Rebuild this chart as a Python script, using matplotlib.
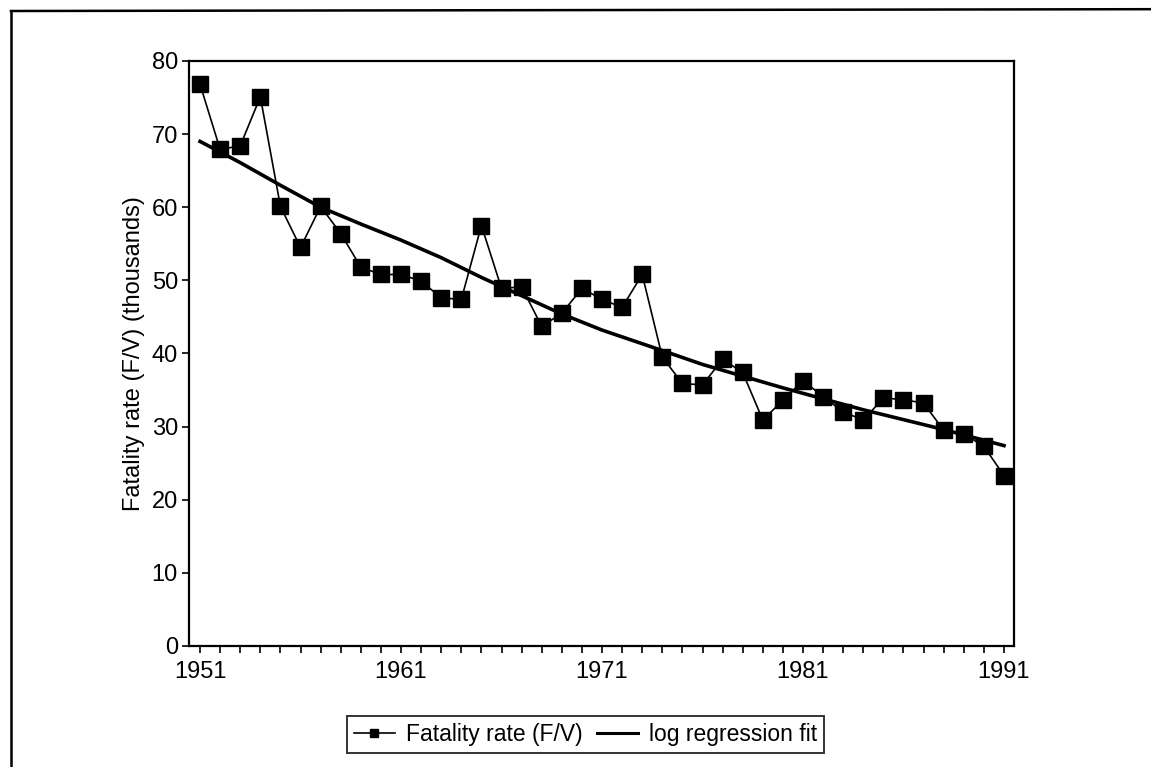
## fatality rate per year with log regression fit

import numpy as np
import matplotlib
matplotlib.use("Agg")
import matplotlib.pyplot as plt
from matplotlib import rcParams
from matplotlib.lines import Line2D

rcParams.update({"font.family": ["Liberation Sans", "DejaVu Sans"], "font.size": 17})

years = list(range(1951, 1992))
fatality_rate = [76.8, 67.9, 68.4, 75.1, 60.1, 54.5, 60.1, 56.4, 51.8, 50.8,
                 50.8, 49.9, 47.6, 47.4, 57.5, 48.9, 49.1, 43.7, 45.5, 48.9,
                 47.4, 46.3, 50.8, 39.5, 35.9, 35.7, 39.2, 37.4, 30.9, 33.6,
                 36.3, 34.1, 32.0, 30.9, 33.9, 33.7, 33.2, 29.5, 29.0, 27.3,
                 23.3]
fit_years = [1951, 1953, 1955, 1957, 1959, 1961, 1963, 1965, 1967, 1969,
             1971, 1974, 1976, 1978, 1980, 1982, 1984, 1988, 1991]
fit_values = [69.0, 66.1, 63.0, 60.0, 57.7, 55.5, 53.1, 50.4, 47.9, 45.4,
              43.2, 40.4, 38.5, 36.9, 35.3, 33.8, 32.3, 29.6, 27.4]
y_ticks = [0, 10, 20, 30, 40, 50, 60, 70, 80]
x_labels = [1951, 1961, 1971, 1981, 1991]

fig = plt.figure(figsize=(11.51, 7.67), dpi=100)
ax = fig.add_axes([0.1642, 0.1578, 0.7168, 0.7627])

ax.plot(years, fatality_rate, color="black", lw=1.2, marker="s",
        markersize=11, markerfacecolor="black", markeredgecolor="black")
ax.plot(fit_years, fit_values, color="black", lw=2.6)

ax.set_xlim(1950.45, 1991.5)
ax.set_ylim(0, 80)
ax.set_yticks(y_ticks)
ax.set_xticks(x_labels)
ax.set_xticks(years, minor=True)
ax.tick_params(axis="both", which="both", direction="out", length=5, width=1.2,
               colors="black", labelsize=17)
ax.tick_params(axis="x", pad=6)
ax.tick_params(axis="y", pad=3)
for s in ax.spines.values():
    s.set_linewidth(1.6)
ax.set_ylabel("Fatality rate (F/V) (thousands)", fontsize=17, labelpad=5)

handles = [Line2D([], [], color="black", lw=1.2, marker="s", markersize=6),
           Line2D([], [], color="black", lw=2.2)]
leg = fig.legend(handles, ["Fatality rate (F/V)", "log regression fit"],
                 loc="center", bbox_to_anchor=(0.5087, 0.0424), ncol=2,
                 frameon=True, fancybox=False, edgecolor="black",
                 handlelength=1.8, handletextpad=0.5, columnspacing=0.6,
                 borderpad=0.3, fontsize=16.5)
leg.get_frame().set_linewidth(1.4)

# outer frame, only left and top edges fall inside the scan
fig.add_artist(Line2D([0.0095, 0.0095], [-0.1, 1 - 11 / 767], color="black", lw=1.8,
                      transform=fig.transFigure))
fig.add_artist(Line2D([0.0095, 1.1], [1 - 11 / 767, 1 - 9 / 767], color="black", lw=1.8,
                      transform=fig.transFigure))

fig.savefig("out.png", dpi=100)
